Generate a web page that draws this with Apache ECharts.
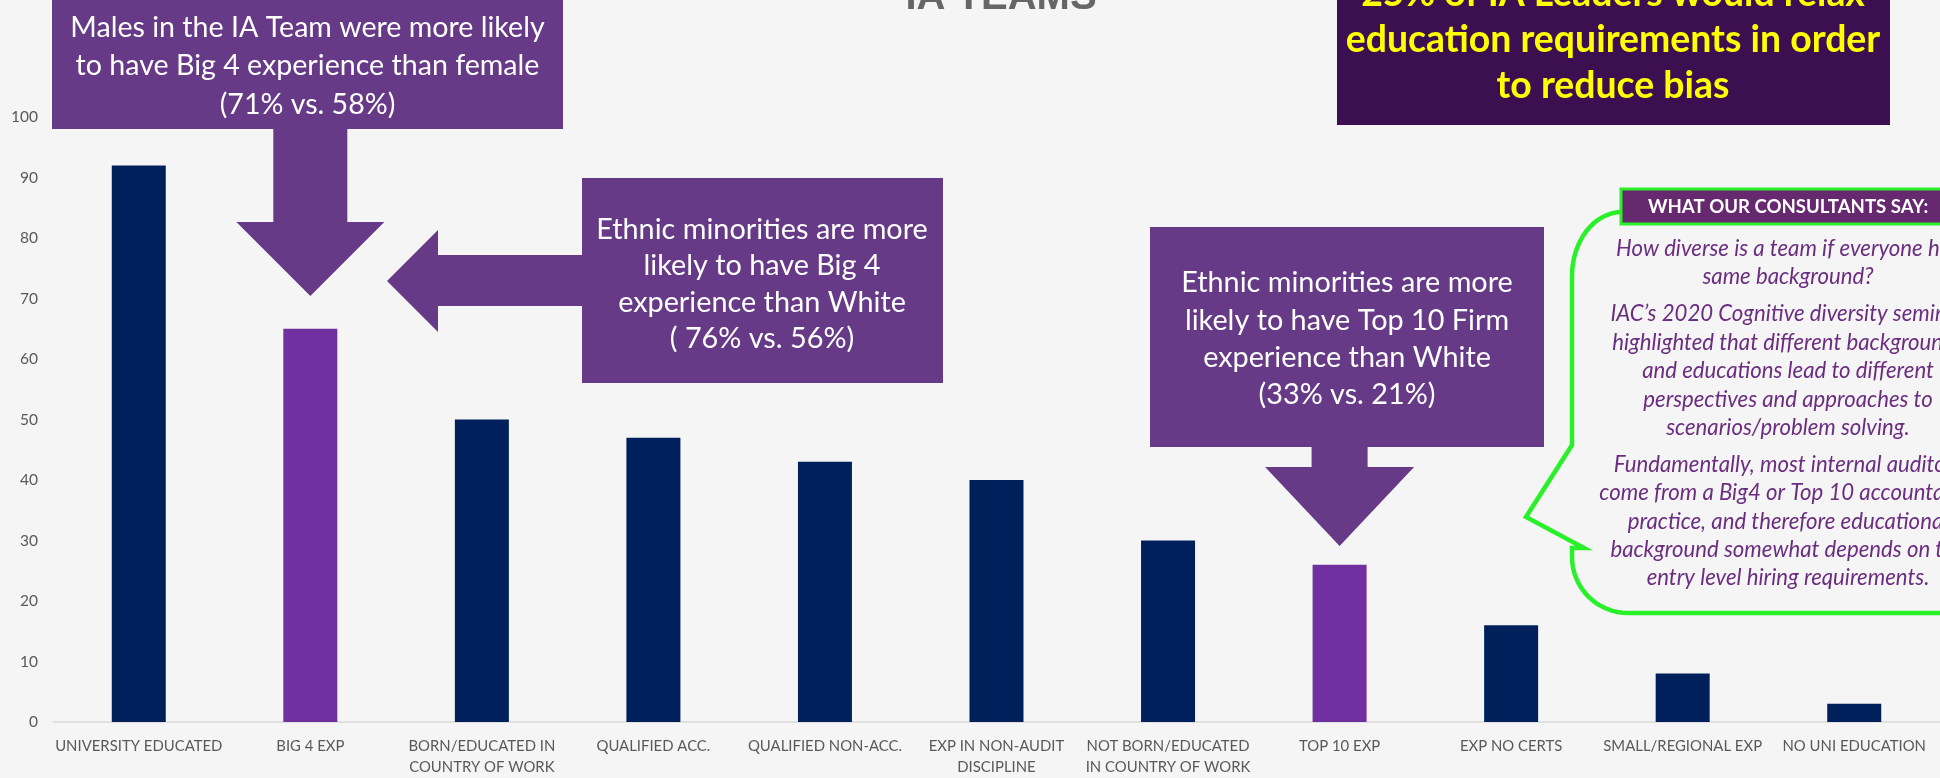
<!DOCTYPE html>
<html>
<head>
<meta charset="utf-8">
<script src="https://cdn.jsdelivr.net/npm/echarts@6/dist/echarts.min.js"></script>
<style>
  html, body { margin: 0; padding: 0; background: #f5f5f5; }
  #chart { width: 1940px; height: 778px; }
</style>
</head>
<body>
<div id="chart"></div>
<script>
// Background categories and share of IA team members (%)
const categories = [
  'UNIVERSITY EDUCATED',
  'BIG 4 EXP',
  'BORN/EDUCATED IN\nCOUNTRY OF WORK',
  'QUALIFIED ACC.',
  'QUALIFIED NON-ACC.',
  'EXP IN NON-AUDIT\nDISCIPLINE',
  'NOT BORN/EDUCATED\nIN COUNTRY OF WORK',
  'TOP 10 EXP',
  'EXP NO CERTS',
  'SMALL/REGIONAL EXP',
  'NO UNI EDUCATION'
];
const shares = [92, 65, 50, 47, 43, 40, 30, 26, 16, 8, 3];
const highlighted = ['BIG 4 EXP', 'TOP 10 EXP'];

const yMin = 0, yMax = 100, yStep = 10;

const titleText = 'IA TEAMS';
const leaderNote = ['25% of IA Leaders would relax', 'education requirements in order', 'to reduce bias'];
const genderNote = ['Males in the IA Team were more likely', 'to have Big 4 experience than female', '(71% vs. 58%)'];
const ethnicBig4Note = ['Ethnic minorities are more', 'likely to have Big 4', 'experience than White', '( 76% vs. 56%)'];
const ethnicTop10Note = ['Ethnic minorities are more', 'likely to have Top 10 Firm', 'experience than White', '(33% vs. 21%)'];
const consultantsHeader = 'WHAT OUR CONSULTANTS SAY:';
const consultantsQuote = [
  ['How diverse is a team if everyone has', 'same background?'],
  ['IAC\u2019s 2020 Cognitive diversity seminar', 'highlighted that different backgrounds', 'and educations lead to different', 'perspectives and approaches to', 'scenarios/problem solving.'],
  ['Fundamentally, most internal auditors', 'come from a Big4 or Top 10 accountancy', 'practice, and therefore educational', 'background somewhat depends on the', 'entry level hiring requirements.']
];

// Colours
const NAVY = '#00205b';
const PURPLE = '#7030a0';
const CALLOUT = '#663a86';
const DARK = '#3c1050';
const HEADER = '#66296f';
const GREEN = '#29f029';
const GREY = '#595959';
const QUOTE = '#6b2d80';

// Font size that makes a string span a given width
const measure = document.createElement('canvas').getContext('2d');
function fitSize(text, font, width) {
  measure.font = font.replace('{s}', '100px');
  return Math.round(1000 * width / measure.measureText(text).width) / 10;
}
const SANS = 'Lato';

const chart = echarts.init(document.getElementById('chart'), null, { renderer: 'canvas' });

const axisSize = fitSize('UNIVERSITY EDUCATED', `400 {s} ${SANS}`, 167);

chart.setOption({
  backgroundColor: '#f5f5f5',
  animation: false,
  grid: { left: 53, right: 0, top: 117, bottom: 56, containLabel: false },
  xAxis: {
    type: 'category',
    data: categories,
    axisLine: { show: true, lineStyle: { color: '#d9d9d9', width: 1.5 } },
    axisTick: { show: false },
    axisLabel: {
      interval: 0, color: GREY, fontFamily: SANS, fontSize: axisSize,
      lineHeight: 21, margin: 14
    },
    splitLine: { show: false }
  },
  yAxis: {
    type: 'value', min: yMin, max: yMax, interval: yStep,
    axisLine: { show: false }, axisTick: { show: false },
    splitLine: { show: false },
    axisLabel: { color: GREY, fontFamily: SANS, fontSize: 15.5, margin: 15 }
  },
  series: [{
    type: 'bar',
    barWidth: 54,
    data: shares.map((v, i) => ({
      value: v,
      itemStyle: { color: highlighted.includes(categories[i]) ? PURPLE : NAVY }
    }))
  }]
});

// Annotations attached to the bars they refer to
const barX = name => chart.convertToPixel({ xAxisIndex: 0 }, name);
const big4X = barX('BIG 4 EXP');
const top10X = barX('TOP 10 EXP');

const calloutSize = fitSize(genderNote[0], `400 {s} ${SANS}`, 474);
const ethnicSize = fitSize(ethnicBig4Note[0], `400 {s} ${SANS}`, 332);
const leaderSize = fitSize(leaderNote[1], `700 {s} ${SANS}`, 534);
const headerSize = fitSize(consultantsHeader, `700 {s} ${SANS}`, 281);
const quoteSize = fitSize(consultantsQuote[2][4], `italic 400 {s} ${SANS}`, 283);
const titleSize = fitSize(titleText, `700 {s} Liberation Sans`, 191);

function downArrow(cx, yTop, yNeck, yTip, shaftHalf, headHalf) {
  return [[cx - shaftHalf, yTop], [cx + shaftHalf, yTop], [cx + shaftHalf, yNeck], [cx + headHalf, yNeck],
          [cx, yTip], [cx - headHalf, yNeck], [cx - shaftHalf, yNeck]];
}

function textBlock(lines, x, y, size, opts) {
  return {
    type: 'text', z: 120, x: x, y: y,
    style: Object.assign({
      text: lines.join('\n'), fill: '#ffffff', font: `400 ${size}px ${SANS}`,
      align: 'center', verticalAlign: 'middle'
    }, opts || {})
  };
}

// Quarter-ellipse corner from angle a0 to a1 around (cx, cy)
function corner(cx, cy, rx, ry, a0, a1) {
  const pts = [];
  for (let k = 0; k <= 16; k++) {
    const a = a0 + (a1 - a0) * k / 16;
    pts.push([cx + rx * Math.cos(a), cy + ry * Math.sin(a)]);
  }
  return pts;
}

// Speech bubble outline with its pointer on the left side
const L = 1572, T = 212, R = 1995, B = 613;
const bubblePts = [].concat(
  corner(L + 50, T + 64, 50, 64, Math.PI, 1.5 * Math.PI),
  [[R, T], [R, B]],
  corner(L + 56, B - 56, 56, 56, 0.5 * Math.PI, Math.PI),
  [[L, 548], [1584, 548], [1526, 517], [L, 445]]
);

const elements = [
  // cut-off title
  { type: 'text', z: 120, x: 1001, y: 18, style: {
      text: titleText, fill: '#666666', font: `700 ${titleSize}px "Liberation Sans"`,
      align: 'center', verticalAlign: 'bottom' } },

  // leaders box
  { type: 'rect', z: 110, shape: { x: 1337, y: -2, width: 553, height: 127 }, style: { fill: DARK } },
  textBlock(leaderNote, 1613, 39.6, leaderSize, { fill: '#ffff00', font: `700 ${leaderSize}px ${SANS}`, lineHeight: 46 }),

  // gender callout
  { type: 'rect', z: 110, shape: { x: 52, y: -2, width: 511, height: 131 }, style: { fill: CALLOUT } },
  { type: 'polygon', z: 110, shape: { points: downArrow(big4X, 128, 222, 296, 37, 74) }, style: { fill: CALLOUT } },
  textBlock(genderNote, 307.5, 66, calloutSize, { lineHeight: 38.5 }),

  // ethnic Big 4 callout
  { type: 'rect', z: 110, shape: { x: 582, y: 178, width: 361, height: 205 }, style: { fill: CALLOUT } },
  { type: 'polygon', z: 110, shape: { points: [[583, 255], [583, 306], [438, 306], [438, 332], [387, 281], [438, 230], [438, 255]] }, style: { fill: CALLOUT } },
  textBlock(ethnicBig4Note, 762, 284, ethnicSize, { lineHeight: 36.5 }),

  // ethnic Top 10 callout
  { type: 'rect', z: 110, shape: { x: 1150, y: 227, width: 394, height: 220 }, style: { fill: CALLOUT } },
  { type: 'polygon', z: 110, shape: { points: downArrow(top10X, 446, 467, 546, 28, 74.5) }, style: { fill: CALLOUT } },
  textBlock(ethnicTop10Note, 1347, 339, ethnicSize, { lineHeight: 37.3 }),

  // consultants speech bubble
  { type: 'polygon', z: 110, shape: { points: bubblePts },
    style: { fill: null, stroke: GREEN, lineWidth: 4.5, lineJoin: 'miter' } },
  { type: 'rect', z: 111, shape: { x: 1621, y: 189, width: 360, height: 35 },
    style: { fill: HEADER, stroke: GREEN, lineWidth: 3 } },
  { type: 'text', z: 120, x: 1648, y: 207, style: {
      text: consultantsHeader, fill: '#ffffff', font: `700 ${headerSize}px ${SANS}`,
      align: 'left', verticalAlign: 'middle' } },
  textBlock(consultantsQuote[0], 1788, 263, quoteSize, { fill: QUOTE, font: `italic 400 ${quoteSize}px ${SANS}`, lineHeight: 28.3 }),
  textBlock(consultantsQuote[1], 1788, 371, quoteSize, { fill: QUOTE, font: `italic 400 ${quoteSize}px ${SANS}`, lineHeight: 28.4 }),
  textBlock(consultantsQuote[2], 1788, 521.5, quoteSize, { fill: QUOTE, font: `italic 400 ${quoteSize}px ${SANS}`, lineHeight: 28.3 })
];

chart.setOption({ graphic: { elements: elements } });
</script>
</body>
</html>
